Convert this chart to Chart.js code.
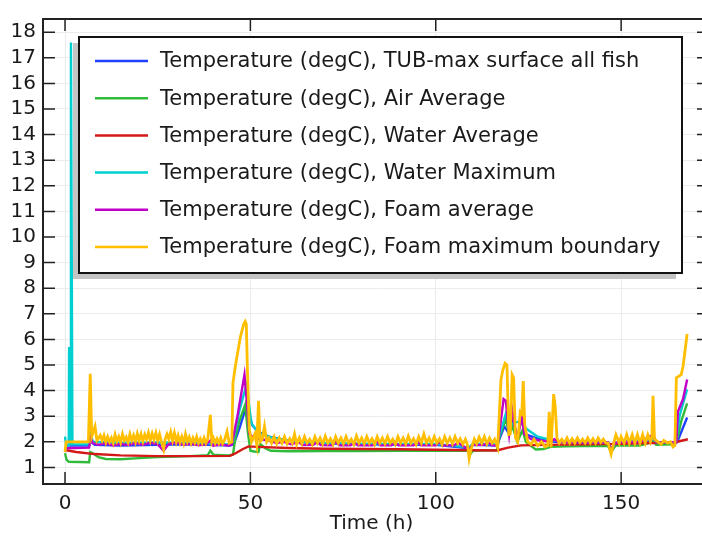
<!DOCTYPE html>
<html>
<head>
<meta charset="utf-8">
<script src="https://cdn.jsdelivr.net/npm/chart.js@4.4.0/dist/chart.umd.min.js"></script>
<style>
  html, body { margin: 0; padding: 0; background: #fff; overflow: hidden; }
  #wrap { width: 702px; height: 539px; overflow: hidden; }
  canvas { display: block; }
</style>
</head>
<body>
<div id="wrap"><canvas id="chart" width="712" height="539"></canvas></div>
<script>
// tick labels
const xTicks = [0, 50, 100, 150];
const yTicks = [1, 2, 3, 4, 5, 6, 7, 8, 9, 10, 11, 12, 13, 14, 15, 16, 17, 18];

const labels = [
  "Temperature (degC), TUB-max surface all fish",
  "Temperature (degC), Air Average",
  "Temperature (degC), Water Average",
  "Temperature (degC), Water Maximum",
  "Temperature (degC), Foam average",
  "Temperature (degC), Foam maximum boundary"
];

// TUB-max surface (blue)
const blueT = [0, 2, 6.5, 7, 8, 15, 25, 35, 44.5, 45.5, 47, 48.7, 49.3, 50.5, 52, 55, 60, 65, 70, 80, 90, 100, 109, 110, 116.5, 118.5, 119.4, 120.7, 122, 123.4, 125, 128, 132, 140, 146.5, 147.3, 148.5, 155, 158.6, 159.5, 164.8, 165.3, 167.8];
const blueV = [1.85, 1.85, 1.85, 2.0, 1.88, 1.85, 1.88, 1.9, 1.85, 1.9, 2.5, 3.3, 3.2, 2.65, 2.4, 2.2, 2.05, 1.97, 1.93, 1.9, 1.88, 1.88, 1.75, 1.88, 1.85, 2.6, 2.4, 2.8, 2.15, 2.4, 2.25, 2.1, 2.0, 1.95, 1.95, 1.75, 1.95, 1.95, 2.05, 1.95, 1.95, 2.05, 2.95];

// Air average (green)
const greenT = [0, 0.4, 1, 6.5, 6.8, 7.5, 9, 11, 15, 20, 25, 30, 35, 38.5, 39.2, 40, 44, 45.3, 46, 47, 48.6, 49.3, 50, 51, 52.2, 52.6, 54, 55.5, 60, 70, 80, 90, 100, 108.5, 109.2, 110, 116.5, 117.2, 118.9, 119.8, 120.7, 122, 123.4, 124.3, 126, 127, 129, 131, 135, 140, 146.5, 147.3, 148.5, 155, 158.6, 159.5, 164.5, 165.3, 166.2, 167.8];
const greenV = [1.55, 1.3, 1.22, 1.2, 1.6, 1.55, 1.4, 1.33, 1.32, 1.36, 1.4, 1.42, 1.45, 1.48, 1.65, 1.5, 1.47, 1.5, 2.2, 2.8, 3.45, 2.4, 1.65, 1.62, 1.6, 1.92, 1.75, 1.65, 1.63, 1.64, 1.64, 1.65, 1.65, 1.65, 1.5, 1.65, 1.68, 2.2, 2.9, 2.3, 2.6, 2.0, 2.45, 2.0, 1.8, 1.7, 1.72, 1.8, 1.82, 1.83, 1.83, 1.6, 1.85, 1.85, 2.0, 1.88, 1.9, 2.2, 2.8, 3.5];

// Water average (red)
const redT = [0, 3, 8, 15, 25, 35, 44.5, 46, 48, 49.5, 52, 60, 70, 80, 90, 100, 110, 116.5, 119.5, 123, 130, 140, 150, 158, 164.5, 166, 168];
const redV = [1.68, 1.6, 1.52, 1.47, 1.44, 1.44, 1.45, 1.55, 1.72, 1.82, 1.8, 1.76, 1.73, 1.72, 1.71, 1.69, 1.67, 1.66, 1.77, 1.86, 1.88, 1.9, 1.92, 1.95, 1.97, 2.03, 2.1];

// Water maximum (cyan)
const cyanT = [0, 0.3, 1.0, 1.1, 1.2, 1.4, 1.6, 2.0, 6.5, 6.9, 7.5, 15, 25, 35, 44.5, 45.3, 47, 48.9, 50.3, 51.6, 53, 56, 60.5, 65, 69.5, 80, 90, 100, 109, 110, 116.5, 118.9, 120.3, 121.2, 122.5, 124.8, 127.5, 130.2, 132.9, 140, 146.5, 147.3, 148.5, 158.6, 159.5, 164.8, 165.8, 167.8];
const cyanV = [2.2, 1.85, 1.85, 5.7, 1.9, 1.9, 17.6, 1.9, 1.9, 2.3, 2.0, 1.95, 1.97, 1.95, 1.9, 2.0, 3.2, 4.2, 2.72, 2.45, 2.3, 2.15, 2.05, 2.0, 1.95, 1.93, 1.92, 1.92, 1.78, 1.92, 1.9, 3.1, 2.66, 2.75, 2.79, 2.47, 2.2, 2.1, 2.03, 1.98, 1.97, 1.7, 1.97, 2.15, 1.98, 1.98, 3.04, 4.05];

// Foam average (magenta)
const magT = [0, 0.3, 6.5, 6.9, 7.5, 9, 11, 13, 15, 17, 19, 21, 23, 25, 26.6, 28, 30, 32, 34, 36, 38, 39.2, 40, 42, 44, 45, 46.5, 48.4, 49.2, 49.7, 51, 53, 55, 57, 59, 61, 63, 64, 67, 68, 69, 72, 73, 74, 77, 78, 79, 83, 84, 85, 88, 89, 90, 94, 95, 96, 100, 101, 102, 105, 106, 107, 109, 110, 113, 114, 115, 116.7, 118.3, 118.9, 119.8, 120.6, 121.2, 122.1, 123.2, 123.9, 125.7, 128, 131, 132, 133, 140, 146.5, 147.3, 148.5, 152, 155, 158.6, 159.5, 164.9, 165.3, 166.7, 167.8];
const magV = [1.6, 1.75, 1.77, 2.15, 1.95, 1.88, 1.95, 1.85, 1.92, 1.87, 1.95, 1.88, 1.97, 1.9, 1.65, 1.92, 1.97, 1.88, 1.93, 1.86, 1.9, 2.05, 1.85, 1.9, 1.85, 1.9, 3.0, 4.62, 3.3, 2.3, 2.15, 2.1, 2.05, 1.95, 2.0, 1.9, 2.0, 1.87, 1.88, 2.0, 1.87, 1.86, 2.0, 1.86, 1.86, 1.98, 1.86, 1.86, 2.02, 1.86, 1.86, 1.98, 1.86, 1.86, 2.02, 1.86, 1.86, 2.0, 1.86, 1.86, 1.98, 1.86, 1.7, 1.88, 1.88, 2.0, 1.87, 1.85, 3.67, 3.6, 2.28, 3.23, 2.66, 2.15, 2.98, 2.3, 2.1, 2.05, 2.0, 2.1, 2.0, 1.97, 1.97, 1.72, 1.97, 2.0, 1.98, 2.28, 1.98, 1.98, 3.17, 3.67, 4.43];

// Foam maximum boundary (yellow)
const yelT = [
  0, 0.3, 6.3, 6.8, 7.2, 8.1, 8.6, 9.5,
  10, 10.5, 11, 11.5, 12, 12.5, 13, 13.5, 14, 14.5,
  15, 15.5, 16, 16.5, 17, 17.5, 18, 18.5, 19, 19.5,
  20, 20.5, 21, 21.5, 22, 22.5, 23, 23.5, 24, 24.5,
  25, 25.5, 26, 26.6, 27, 27.5, 28, 28.5, 29, 29.5,
  30, 30.5, 31, 31.5, 32, 32.5, 33, 33.5, 34, 34.5,
  35, 35.5, 36, 36.5, 37, 37.5, 38, 38.5, 39.2, 39.6,
  40, 40.5, 41, 41.5, 42, 42.5, 43, 43.7, 44.3, 45,
  45.3, 46, 47.3, 48.2, 48.6, 48.9, 49.2, 49.7, 50.3, 51.2,
  51.7, 52.2, 52.6, 53.2, 53.8, 54.4,
  55, 55.7, 56.4, 57.1, 57.8, 58.5, 59.2, 59.9, 60.6, 61.3,
  61.9, 62.5, 63.2, 63.9, 64.6, 65.3, 66, 66.7, 67.4, 68.1,
  68.8, 69.5, 70.2, 70.9, 71.6, 72.3, 73, 73.7, 74.4, 75.1,
  75.8, 76.5, 77.2, 77.9, 78.6, 79.3, 80, 80.7, 81.4, 82.1,
  82.8, 83.5, 84.2, 84.9, 85.6, 86.3, 87, 87.7, 88.4, 89.1,
  89.8, 90.5, 91.2, 91.9, 92.6, 93.3, 94, 94.7, 95.4, 96.1,
  96.8, 97.5, 98.2, 98.9, 99.6, 100.3, 101, 101.7, 102.4, 103.1,
  103.8, 104.5, 105.2, 105.9, 106.6, 107.3, 108,
  108.6, 109, 109.5, 110.4, 111, 111.7, 112.4, 113.1, 113.8, 114.5,
  115.2, 115.9, 116.7,
  117.6, 118.1, 118.7, 119.2, 119.7, 120.1, 120.6, 121, 121.5, 122.1,
  122.8, 123.2, 123.6, 124, 124.8, 125.7, 126.5, 127.5, 128.5, 129.5,
  130.2, 130.6, 131.1, 131.8, 132.2, 132.7, 133.3,
  134, 134.7, 135.4, 136.1, 136.8, 137.5, 138.2, 138.9, 139.6, 140.3,
  141, 141.7, 142.4, 143.1, 143.8, 144.5, 145.2, 145.9, 146.5,
  147.3, 148, 148.6, 149.5, 150, 150.8, 151.5, 152.2, 153, 153.7,
  154.4, 155.1, 155.8, 156.5, 157.2, 157.9, 158.3, 158.6, 159, 159.9,
  160.8, 161.5, 162.6, 163.3, 164, 164.5, 164.9, 166.2, 166.7, 167.8
];
const yelV = [
  1.6, 2.0, 2.0, 4.66, 2.2, 2.6, 2.05, 2.25,
  2.05, 2.25, 1.98, 2.2, 2.0, 2.15, 1.95, 2.28, 2.02, 2.2,
  1.97, 2.3, 2.05, 2.18, 1.98, 2.3, 2.05, 2.25, 2.0, 2.32,
  2.05, 2.3, 2.02, 2.28, 2.1, 2.35, 2.05, 2.32, 2.08, 2.35,
  2.05, 2.3, 2.0, 1.7, 2.1, 2.3, 2.1, 2.38, 2.05, 2.35,
  2.0, 2.25, 1.98, 2.2, 1.95, 2.3, 2.0, 2.18, 1.95, 2.15,
  1.97, 2.2, 1.95, 2.12, 1.95, 2.15, 1.95, 2.1, 3.05, 2.0,
  2.15, 1.95, 2.12, 1.95, 2.15, 1.93, 2.05, 2.4, 1.95, 2.0,
  4.3, 5.0, 6.1, 6.6, 6.7, 6.6, 4.8, 2.5, 2.0, 2.3,
  1.9, 3.6, 2.0, 2.1, 2.6, 2.0,
  2.15, 1.95, 2.2, 1.92, 2.15, 1.95, 2.2, 1.93, 2.12, 1.95,
  2.3, 1.9, 2.15, 1.92, 2.2, 1.95, 2.1, 1.9, 2.2, 1.95,
  2.15, 1.92, 2.22, 1.95, 2.12, 1.9, 2.2, 1.95, 2.15, 1.92,
  2.2, 1.95, 2.1, 1.9, 2.22, 1.95, 2.15, 1.92, 2.2, 1.95,
  2.12, 1.9, 2.2, 1.95, 2.15, 1.92, 2.2, 1.95, 2.1, 1.9,
  2.2, 1.95, 2.15, 1.92, 2.22, 1.95, 2.12, 1.9, 2.2, 1.95,
  2.3, 1.95, 2.15, 1.92, 2.2, 1.95, 2.12, 1.9, 2.2, 1.95,
  2.15, 1.92, 2.2, 1.95, 2.12, 1.9, 2.1,
  1.85, 1.35, 1.7, 2.1, 1.92, 2.18, 1.95, 2.2, 1.92, 2.15,
  1.95, 2.1, 1.78,
  4.43, 4.81, 5.07, 5.0, 2.28, 2.3, 4.62, 4.5, 2.15, 2.0,
  3.17, 3.1, 4.37, 2.66, 2.0, 1.9, 2.1, 1.85, 2.0, 1.8,
  1.85, 3.17, 1.78, 3.86, 3.4, 2.15, 1.95,
  2.1, 1.95, 2.15, 1.95, 2.12, 1.95, 2.15, 1.97, 2.1, 1.95,
  2.15, 1.95, 2.12, 1.95, 2.15, 1.97, 2.1, 1.95, 1.95,
  1.52, 1.95, 2.28, 1.95, 2.2, 1.95, 2.28, 1.95, 2.28, 1.95,
  2.28, 1.95, 2.28, 1.95, 2.28, 2.0, 2.2, 3.8, 2.1, 2.0,
  1.9, 2.05, 1.95, 2.0, 1.8, 1.85, 4.5, 4.62, 4.94, 6.21
];

const colors = ["#2040ff", "#30bb3a", "#d41818", "#00cfcf", "#c000c8", "#ffbe00"];
const series = [[blueT, blueV], [greenT, greenV], [redT, redV], [cyanT, cyanV], [magT, magV], [yelT, yelV]];

const FONT = "'DejaVu Sans', 'Liberation Sans', sans-serif";

const datasets = series.map((s, i) => ({
  label: labels[i],
  data: s[0].map((t, j) => ({ x: t, y: s[1][j] })),
  borderColor: colors[i],
  borderWidth: i === 5 ? 2.8 : 2.4,
  pointRadius: 0,
  tension: 0,
  fill: false,
  order: 5 - i
}));

// frame, inward ticks, axis title and boxed legend
const decor = {
  id: "decor",
  afterDraw(chart) {
    const { ctx, chartArea: a, scales } = chart;
    const x = scales.x, y = scales.y;
    ctx.save();
    ctx.strokeStyle = "#222";
    ctx.lineWidth = 2;
    ctx.beginPath();
    ctx.moveTo(a.left, a.top); ctx.lineTo(a.right, a.top);
    ctx.moveTo(a.right, a.top); ctx.lineTo(a.right, a.bottom);
    ctx.stroke();

    ctx.lineWidth = 1.5;
    ctx.beginPath();
    yTicks.forEach(v => {
      const py = y.getPixelForValue(v);
      ctx.moveTo(a.left, py); ctx.lineTo(a.left + 12, py);
      ctx.moveTo(a.right, py); ctx.lineTo(a.right - 12, py);
    });
    xTicks.forEach(v => {
      const px = x.getPixelForValue(v);
      ctx.moveTo(px, a.bottom); ctx.lineTo(px, a.bottom - 12);
      ctx.moveTo(px, a.top); ctx.lineTo(px, a.top + 12);
    });
    ctx.stroke();

    ctx.fillStyle = "#1a1a1a";
    ctx.font = "20px " + FONT;
    ctx.textAlign = "center";
    ctx.textBaseline = "middle";
    ctx.fillText("Time (h)", (a.left + a.right - 9) / 2, 524);

    // legend box
    const bx = 79, by = 37, bw = 603, bh = 236;
    ctx.fillStyle = "#c4c4c4";
    ctx.fillRect(bx - 6, by + 6, bw, bh);
    ctx.fillStyle = "#fff";
    ctx.fillRect(bx, by, bw, bh);
    ctx.lineWidth = 2;
    ctx.strokeStyle = "#111";
    ctx.strokeRect(bx, by, bw, bh);

    ctx.font = "21px " + FONT;
    ctx.textAlign = "left";
    labels.forEach((lab, i) => {
      const ly = 61 + i * 37.2;
      ctx.strokeStyle = colors[i];
      ctx.lineWidth = 2.5;
      ctx.beginPath();
      ctx.moveTo(95, ly); ctx.lineTo(148, ly);
      ctx.stroke();
      ctx.fillStyle = "#1a1a1a";
      ctx.fillText(lab, 160, ly + 1);
    });
    ctx.restore();
  }
};

new Chart(document.getElementById("chart"), {
  type: "line",
  data: { datasets },
  options: {
    responsive: false,
    animation: false,
    layout: { padding: { top: 8, right: 3, left: 0, bottom: 0 } },
    plugins: { legend: { display: false }, tooltip: { enabled: false } },
    scales: {
      x: {
        type: "linear",
        min: -5.94,
        max: 173.7,
        afterFit: s => { s.height = 55; },
        afterBuildTicks: s => { s.ticks = xTicks.map(v => ({ value: v })); },
        grid: { color: "#ebebeb", lineWidth: 1, drawTicks: false },
        border: { display: true, color: "#222", width: 2 },
        ticks: { font: { family: FONT, size: 20 }, color: "#1a1a1a", padding: 8, maxRotation: 0, autoSkip: false }
      },
      y: {
        type: "linear",
        min: 0.351,
        max: 18.515,
        afterFit: s => { s.width = 43; },
        afterBuildTicks: s => { s.ticks = yTicks.map(v => ({ value: v })); },
        grid: { color: "#ebebeb", lineWidth: 1, drawTicks: false },
        border: { display: true, color: "#222", width: 2 },
        ticks: { font: { family: FONT, size: 20 }, color: "#1a1a1a", padding: 7, autoSkip: false }
      }
    }
  },
  plugins: [decor]
});
</script>
</body>
</html>
